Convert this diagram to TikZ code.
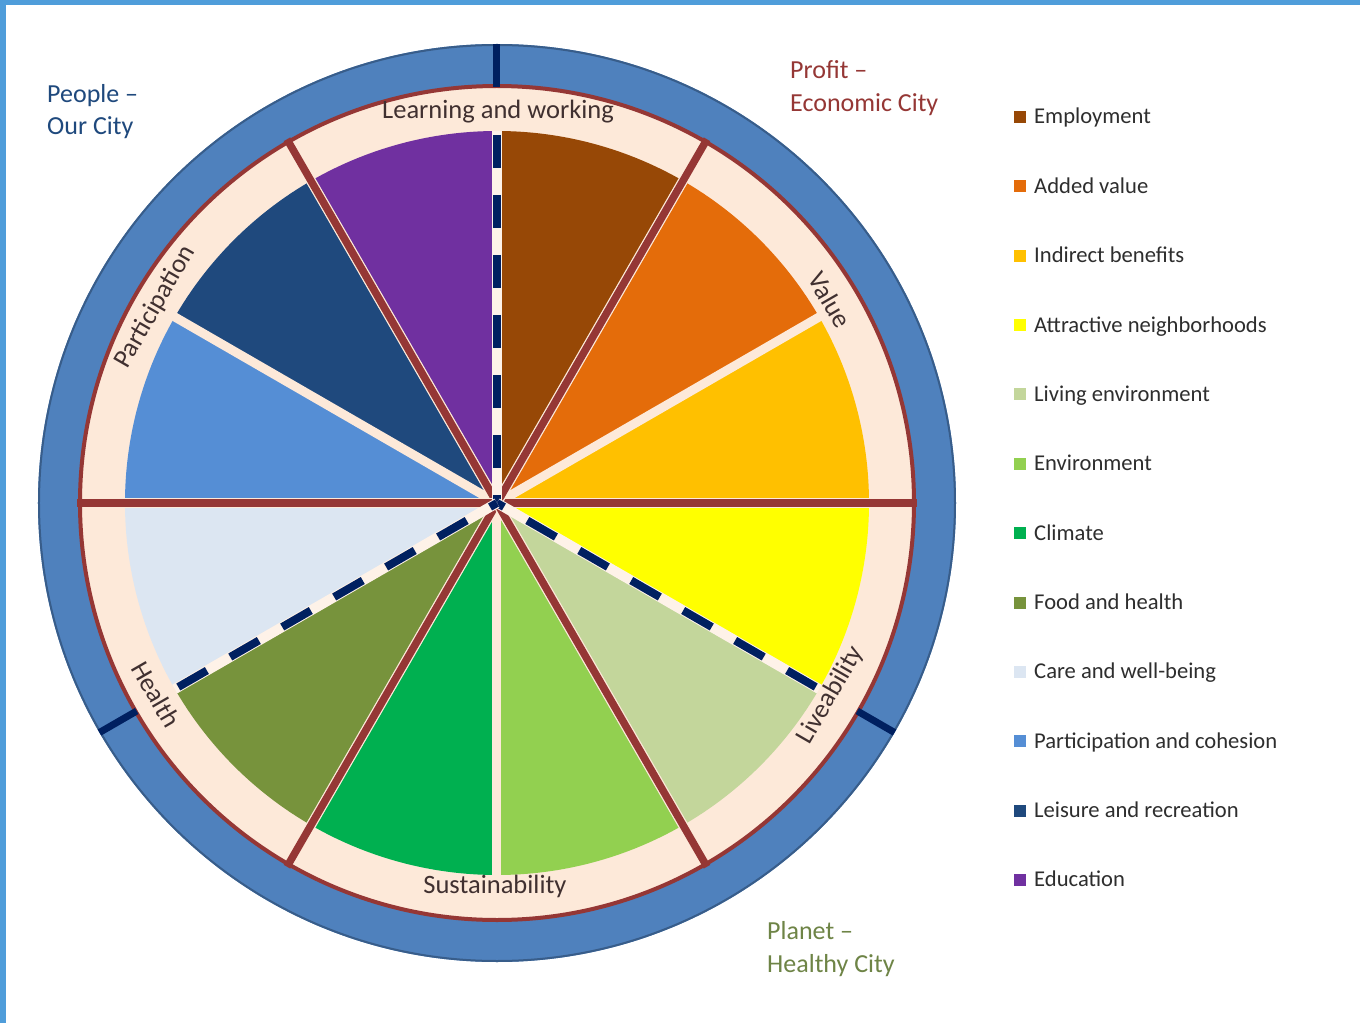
\documentclass[tikz,border=0pt]{standalone}
\usepackage{fontspec}
\setmainfont{Carlito}
\definecolor{framec}{RGB}{79,157,218}
\definecolor{ringblue}{RGB}{79,129,189}
\definecolor{ringedge}{RGB}{56,93,138}
\definecolor{ringred}{RGB}{149,55,53}
\definecolor{beigec}{RGB}{253,233,217}
\definecolor{navyc}{RGB}{0,32,96}
\definecolor{employment}{RGB}{151,72,6}
\definecolor{addedvalue}{RGB}{228,108,10}
\definecolor{indirect}{RGB}{255,192,0}
\definecolor{attractive}{RGB}{255,255,0}
\definecolor{living}{RGB}{195,214,155}
\definecolor{environment}{RGB}{146,208,80}
\definecolor{climate}{RGB}{0,176,80}
\definecolor{food}{RGB}{119,147,60}
\definecolor{care}{RGB}{220,230,242}
\definecolor{participation}{RGB}{85,142,213}
\definecolor{leisure}{RGB}{31,73,125}
\definecolor{education}{RGB}{112,48,160}
\definecolor{labelc}{RGB}{64,48,48}
\definecolor{legc}{RGB}{46,46,46}
\definecolor{peoplec}{RGB}{31,73,125}
\definecolor{profitc}{RGB}{149,55,53}
\definecolor{planetc}{RGB}{110,132,70}
\begin{document}
\begin{tikzpicture}[x=1pt,y=1pt,
  gapline/.style={draw=beigec, line width=9pt},
  redspoke/.style={draw=ringred, line width=7.5pt},
  navydash/.style={draw=navyc, line width=8pt, dash pattern=on 33pt off 27pt, dash phase=56pt},
  navytick/.style={draw=navyc, line width=7pt},
  ringlabel/.style={text=labelc, font=\fontsize{26.5}{30}\selectfont, inner sep=0pt},
  titlelabel/.style={font=\fontsize{26}{30}\selectfont, inner sep=0pt, anchor=base west},
  legtext/.style={text=legc, font=\fontsize{22.6}{26}\selectfont, inner sep=0pt, anchor=base west},
  legmark/.style={minimum size=12pt, inner sep=0pt, draw=none}
]
\useasboundingbox (-497,-520) rectangle (863,503);
\fill[white] (-497,-520) rectangle (863,503);
\fill[framec] (-497,503) rectangle (863,498);
\fill[framec] (-497,-520) rectangle (-491,503);

\coordinate (C) at (0,0);
% outer blue ring and beige ring
\fill[ringblue] (C) circle (459);
\draw[ringedge, line width=2pt] (C) circle (458);
\fill[beigec] (C) circle (417);
\draw[ringred, line width=4pt] (C) circle (417);

% wedges
\foreach \c [count=\i from 0] in {employment,addedvalue,indirect,attractive,living,environment,climate,food,care,participation,leisure,education}{
  \pgfmathsetmacro\sa{90-30*\i}
  \pgfmathsetmacro\ea{60-30*\i}
  \fill[\c] (C) -- (\sa:372) arc[start angle=\sa, end angle=\ea, radius=372] -- cycle;
}
% gaps between wedges
\foreach \a in {0,30,...,330}{
  \draw[gapline] (C) -- (\a:378);
}
% red spokes
\foreach \a in {0,60,120,180,240,300}{
  \draw[gapline, line width=10pt] (C) -- (\a:378);
  \draw[redspoke] (C) -- (\a:420);
}
% dashed navy dividers and ticks
\foreach \a in {90,-30,-150}{
  \draw[gapline, draw=white!40!beigec, line width=10pt] (C) -- (\a:372);
  \draw[navydash] (\a:372) -- (C);
  \draw[navytick] (\a:416) -- (\a:459);
}

% ring labels
\node[ringlabel, anchor=base] (lw) at (1,384) {Learning and working};
\node[ringlabel, anchor=base] (su) at (-2,-390) {Sustainability};
\node[ringlabel, rotate=-60] (va) at (31.4:390) {Value};
\node[ringlabel, rotate=60] (li) at (-29.9:385) {Liveability};
\node[ringlabel, rotate=-60] (he) at (-150.7:391) {Health};
\node[ringlabel, rotate=60] (pa) at (150.2:394) {Participation};

% pillar titles
\node[titlelabel, text=peoplec] (pe1) at (-450,400) {People –};
\node[titlelabel, text=peoplec] (pe2) at (-450,368) {Our City};
\node[titlelabel, text=profitc] (pr1) at (293,424) {Profit –};
\node[titlelabel, text=profitc] (pr2) at (293,391) {Economic City};
\node[titlelabel, text=planetc] (pl1) at (270,-436) {Planet –};
\node[titlelabel, text=planetc] (pl2) at (270,-469) {Healthy City};

% legend
\foreach \c/\t [count=\i from 0] in {employment/Employment,addedvalue/Added value,indirect/Indirect benefits,attractive/Attractive neighborhoods,living/Living environment,environment/Environment,climate/Climate,food/Food and health,care/Care and well-being,participation/Participation and cohesion,leisure/Leisure and recreation,education/Education}{
  \node[legmark, fill=\c] (m\i) at (523, 386-69.36*\i) {};
  \node[legtext] (t\i) at (537, 379-69.36*\i) {\t};
}
\end{tikzpicture}
\end{document}
